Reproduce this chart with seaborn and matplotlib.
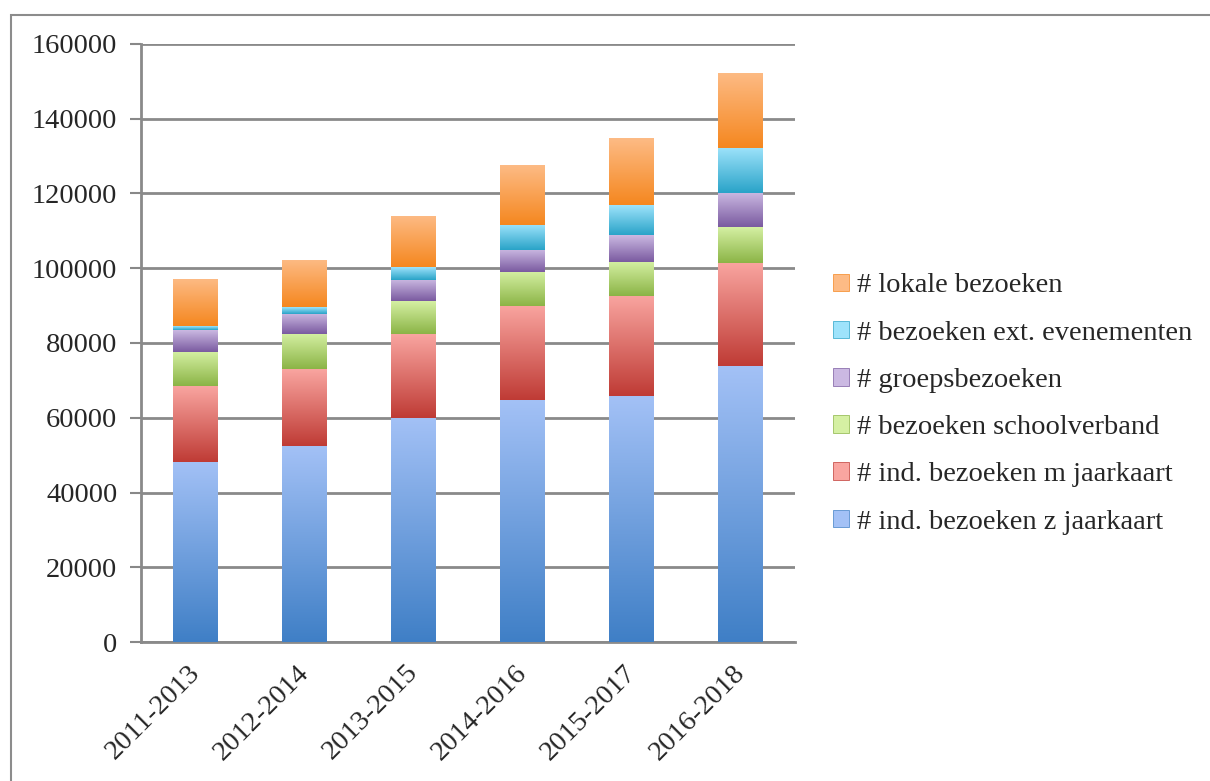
import numpy as np
import pandas as pd
import matplotlib
matplotlib.use("Agg")
import matplotlib.pyplot as plt
import matplotlib.transforms as mtransforms
import seaborn as sns
from matplotlib.colors import LinearSegmentedColormap
from matplotlib.patches import Rectangle, Patch

# data
periods = ["2011-2013", "2012-2014", "2013-2015", "2014-2016", "2015-2017", "2016-2018"]
ind_z_jaarkaart = [48200, 52400, 60000, 64700, 65800, 73800]
ind_m_jaarkaart = [20300, 20600, 22400, 25200, 26800, 27600]
schoolverband = [9200, 9400, 8800, 9100, 9100, 9600]
groepsbezoeken = [5800, 5400, 5700, 5900, 7200, 9100]
ext_evenementen = [1000, 1800, 3400, 6700, 8000, 12100]
lokale_bezoeken = [12600, 12600, 13700, 16000, 17900, 20100]

labels = ["# ind. bezoeken z jaarkaart", "# ind. bezoeken m jaarkaart",
          "# bezoeken schoolverband", "# groepsbezoeken",
          "# bezoeken ext. evenementen", "# lokale bezoeken"]
series = [ind_z_jaarkaart, ind_m_jaarkaart, schoolverband,
          groepsbezoeken, ext_evenementen, lokale_bezoeken]

# gradient colours (top, bottom) per series
grads = [("#a3c1f6", "#3f7fc6"),
         ("#f9a5a0", "#bf3b35"),
         ("#d5f0a3", "#8bb446"),
         ("#cbb9e2", "#7a5aa0"),
         ("#9ee3fb", "#29a3c8"),
         ("#fdbb85", "#f5871f")]

sns.set_theme(style="white")
plt.rcParams['font.family'] = ['Liberation Serif', 'DejaVu Serif']

fig = plt.figure(figsize=(12.1, 7.81), dpi=100)
ax = fig.add_axes([141 / 1210, 1 - 642 / 781, 654 / 1210, 598 / 781])

bottom = np.zeros(len(periods))
for vals, lab, (c_top, c_bot) in zip(series, labels, grads):
    df = pd.DataFrame({"period": periods, "value": vals})
    sns.barplot(data=df, x="period", y="value", color=c_bot, width=0.41,
                bottom=bottom, ax=ax, saturation=1, linewidth=0, zorder=2)
    bottom = bottom + np.array(vals)

# vertical gradient fill for each segment
n = len(periods)
for i, p in enumerate(ax.patches):
    c_top, c_bot = grads[i // n]
    cmap = LinearSegmentedColormap.from_list("g", [c_bot, c_top])
    x0, y0 = p.get_x(), p.get_y()
    w, h = p.get_width(), p.get_height()
    grad = np.linspace(0, 1, 256).reshape(-1, 1)
    im = ax.imshow(grad, cmap=cmap, origin="lower", aspect="auto",
                   extent=[x0, x0 + w, y0, y0 + h], zorder=3)
    im.set_clip_path(p)

ax.set_xlim(-0.5, n - 0.5)
ax.set_ylim(0, 160000)
ax.set_yticks(np.arange(0, 160001, 20000))
ax.set_yticklabels([str(v) for v in range(0, 160001, 20000)], fontsize=20.5)
ax.set_xticks(range(n))
ax.set_xticklabels(periods, rotation=45, ha="right", rotation_mode="anchor", fontsize=20.5)
ax.set_xticks(np.arange(-0.5, n, 1.0), minor=True)
ax.tick_params(axis="x", which="major", length=0, pad=13)
ax.tick_params(axis="x", which="minor", length=8, width=1.5, color="#888888", direction="out")
ax.tick_params(axis="y", length=8, width=1.5, color="#888888", direction="out", pad=9, left=True)
# nudge rotated labels a little to the left
shift = mtransforms.ScaledTranslation(-8 / 100, 0, fig.dpi_scale_trans)
for t in ax.get_xticklabels():
    t.set_transform(t.get_transform() + shift)
ax.set_xlabel("")
ax.set_ylabel("")
ax.grid(axis="y", color="#8a8a8a", linewidth=2, zorder=0)
ax.set_axisbelow(True)
for s in ["top", "right"]:
    ax.spines[s].set_visible(False)
for s in ["left", "bottom"]:
    ax.spines[s].set_color("#8a8a8a")
    ax.spines[s].set_linewidth(2)

handles = [Patch(facecolor=grads[k][0], edgecolor=grads[k][1], linewidth=0.5) for k in range(6)]
ax.legend(handles[::-1], labels[::-1], loc="center left",
          bbox_to_anchor=(807 / 1210, 1 - 404 / 781), bbox_transform=fig.transFigure,
          frameon=False, fontsize=20.5, handlelength=0.58, handleheight=0.58,
          handletextpad=0.28, labelspacing=0.78)

# outer chart border
fig.patches.append(Rectangle((11 / 1210, -0.05), 1.1, 1 - 15 / 781 + 0.05,
                             transform=fig.transFigure, fill=False,
                             edgecolor="#8c8c8c", linewidth=1.5))

fig.savefig("out.png", dpi=100)
